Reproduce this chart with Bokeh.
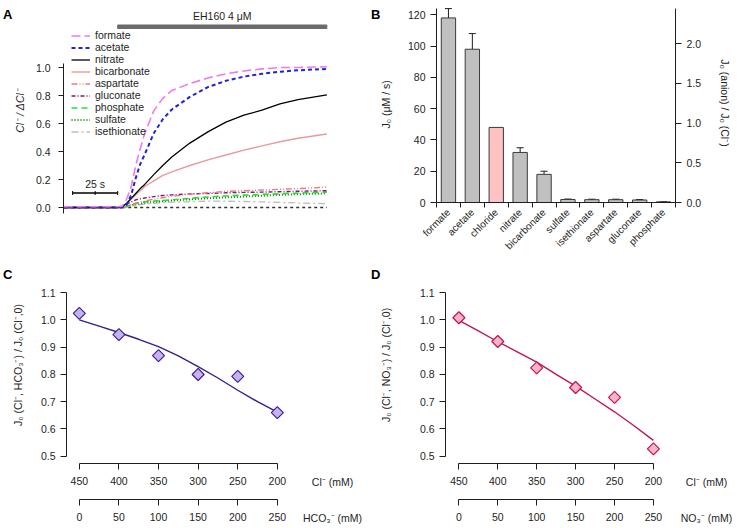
from math import pi
from bokeh.plotting import figure
from bokeh.models import (Range1d, LinearAxis, FixedTicker, NumeralTickFormatter,
                          Legend, LegendItem, Whisker, ColumnDataSource, TeeHead)
from bokeh.layouts import column, row
from bokeh.embed import file_html
from bokeh.resources import INLINE
from bokeh.core.properties import value

FONT = "Liberation Sans"
INK = "#1e1e1e"

# ---------------- Panel A data (time course) ----------------
time_s = [-30, 0, 2.5, 5, 7.5, 10, 12.5, 15, 20, 25, 30, 40, 50, 60, 70, 80, 90, 100, 116]
trace_names = ["formate", "acetate", "nitrate", "bicarbonate", "aspartate",
               "gluconate", "phosphate", "sulfate", "isethionate"]
formate_trace = [0.005, 0.005, 0.01, 0.06, 0.15, 0.30, 0.42, 0.53, 0.69, 0.78, 0.835, 0.885, 0.925, 0.955, 0.975, 0.99, 1.0, 1.0, 1.005]
acetate_trace = [0.0, 0.0, 0.0, 0.02, 0.09, 0.21, 0.31, 0.38, 0.53, 0.63, 0.70, 0.79, 0.86, 0.905, 0.935, 0.955, 0.97, 0.98, 0.99]
nitrate_trace = [0.0, 0.0, 0.005, 0.03, 0.065, 0.10, 0.135, 0.165, 0.235, 0.30, 0.36, 0.46, 0.54, 0.61, 0.66, 0.695, 0.74, 0.77, 0.805]
bicarbonate_trace = [0.0, 0.0, 0.005, 0.03, 0.06, 0.09, 0.12, 0.15, 0.19, 0.23, 0.255, 0.30, 0.34, 0.375, 0.41, 0.44, 0.47, 0.495, 0.525]
aspartate_trace = [0.0, 0.0, 0.0, 0.01, 0.02, 0.03, 0.04, 0.045, 0.06, 0.07, 0.08, 0.095, 0.105, 0.115, 0.12, 0.125, 0.13, 0.135, 0.145]
gluconate_trace = [0.0, 0.0, 0.01, 0.025, 0.04, 0.055, 0.062, 0.068, 0.078, 0.086, 0.09, 0.097, 0.10, 0.105, 0.108, 0.11, 0.113, 0.116, 0.12]
phosphate_trace = [0.0, 0.0, 0.0, 0.01, 0.02, 0.03, 0.035, 0.04, 0.045, 0.05, 0.055, 0.065, 0.075, 0.082, 0.088, 0.093, 0.098, 0.103, 0.11]
sulfate_trace = [0.0, 0.0, 0.0, 0.008, 0.015, 0.022, 0.028, 0.033, 0.04, 0.045, 0.05, 0.058, 0.066, 0.072, 0.078, 0.084, 0.09, 0.095, 0.10]
isethionate_trace = [0.0, 0.0, 0.0, 0.005, 0.01, 0.015, 0.02, 0.025, 0.03, 0.035, 0.038, 0.042, 0.045, 0.045, 0.043, 0.04, 0.036, 0.032, 0.027]
baseline_time_s = [2.5, 116]
baseline_trace = [0.0, 0.0]
eh160_window_s = [0, 116]
eh160_label = "EH160 4 μM"
scalebar_s = [-25, 0]
scalebar_label = "25 s"

# ---------------- Panel B data (J0 per anion) ----------------
anions = ["formate", "acetate", "chloride", "nitrate", "bicarbonate",
          "sulfate", "isethionate", "aspartate", "gluconate", "phosphate"]
j0_uM_s = [118, 98, 48, 32, 18, 1.9, 1.8, 1.8, 1.6, 0.4]
j0_sem = [6, 10, 0, 3, 2, 0.3, 0.3, 0.3, 0.3, 0.1]
j0_chloride_norm = 50.8

# ---------------- Panels C / D data ----------------
cl_mM = [450, 400, 350, 300, 250, 200]
cl_ticks = [450, 400, 350, 300, 250, 200]
sub_ticks = [0, 50, 100, 150, 200, 250]
ratio_hco3 = [1.024, 0.946, 0.869, 0.800, 0.793, 0.660]
ratio_no3 = [1.008, 0.921, 0.824, 0.752, 0.716, 0.527]
fit_cl_mM = [450, 425, 400, 375, 350, 325, 300, 275, 250, 225, 200]
fit_hco3 = [1.0, 0.977, 0.954, 0.929, 0.902, 0.868, 0.829, 0.787, 0.742, 0.70, 0.662]
fit_no3 = [0.998, 0.96, 0.92, 0.883, 0.845, 0.80, 0.757, 0.71, 0.663, 0.612, 0.558]
ratio_ticks = [0.5, 0.6, 0.7, 0.8, 0.9, 1.0, 1.1]

# ---------------- styles ----------------
trace_data = {
    "formate": formate_trace, "acetate": acetate_trace, "nitrate": nitrate_trace,
    "bicarbonate": bicarbonate_trace, "aspartate": aspartate_trace,
    "gluconate": gluconate_trace, "phosphate": phosphate_trace,
    "sulfate": sulfate_trace, "isethionate": isethionate_trace,
}
trace_styles = {
    "formate": ("#EE7BE6", "9 4", 1.6),
    "acetate": ("#1F24D6", "4 3", 2.0),
    "nitrate": ("#000000", "solid", 1.3),
    "bicarbonate": ("#EB9A9A", "solid", 1.4),
    "aspartate": ("#E97C7C", "6 2 1 2 1 2", 1.4),
    "gluconate": ("#7A1A7A", "4 2 1 2", 1.4),
    "phosphate": ("#2BE02B", "6 4", 1.7),
    "sulfate": ("#0A8A0A", "1 2", 2.0),
    "isethionate": ("#BDBDBD", "7 3 2 3", 1.3),
}


def style_axis(ax, size="10.5px", tick_out=5, standoff=6):
    ax.axis_line_color = INK
    ax.axis_line_width = 1
    ax.major_tick_line_color = INK
    ax.minor_tick_line_color = None
    ax.major_tick_in = 0
    ax.major_tick_out = tick_out
    ax.major_label_standoff = standoff
    ax.major_label_text_font = FONT
    ax.major_label_text_font_size = size
    ax.major_label_text_color = INK
    ax.axis_label_text_font = FONT
    ax.axis_label_text_font_size = size
    ax.axis_label_text_color = INK
    ax.axis_label_text_font_style = "normal"


def make_fig(w, h, xr, yr, bl, br, bt, bb, **kw):
    p = figure(width=w, height=h, x_range=xr, y_range=yr, output_backend="svg",
               toolbar_location=None, min_border_left=bl, min_border_right=br,
               min_border_top=bt, min_border_bottom=bb, **kw)
    try:
        p.frame_align = False
    except AttributeError:
        pass
    p.xgrid.visible = False
    p.ygrid.visible = False
    p.outline_line_color = None
    p.background_fill_color = "white"
    p.border_fill_color = "white"
    return p


def letter_axis(p, y, text, standoff):
    # panel letter drawn as the single tick label of an extra, otherwise invisible, left axis
    ax = LinearAxis(ticker=FixedTicker(ticks=[y]), major_label_overrides={y: text})
    ax.axis_line_color = None
    ax.major_tick_line_color = None
    ax.minor_tick_line_color = None
    ax.major_tick_in = 0
    ax.major_tick_out = 0
    ax.major_label_standoff = standoff
    ax.major_label_text_font = FONT
    ax.major_label_text_font_size = "13px"
    ax.major_label_text_font_style = "bold"
    ax.major_label_text_color = "black"
    p.add_layout(ax, "left")


def set_align(ax, where):
    try:
        ax.axis_label_align = where
    except (AttributeError, ValueError):
        pass


TOP_H, BOT_H = 262, 264

# ================= Panel A =================
A_FL, A_FR, A_FT, A_FB = 59, 332, 3, 218
A_T0_PX, A_PX_S = 114, 1.83
A_Y0_PX, A_PX_U = 207, 140
ax_x = lambda px: (px - A_T0_PX) / A_PX_S
ax_y = lambda py: (A_Y0_PX - py) / A_PX_U

pA = make_fig(368, TOP_H, Range1d(ax_x(A_FL), ax_x(A_FR)), Range1d(ax_y(A_FB), ax_y(A_FT)),
              A_FL, 368 - A_FR, A_FT, TOP_H - A_FB, x_axis_location=None)
style_axis(pA.yaxis[0], tick_out=5, standoff=8)
pA.yaxis.bounds = (-0.045, 1.03)
pA.yaxis.ticker = FixedTicker(ticks=[0, 0.2, 0.4, 0.6, 0.8, 1.0])
pA.yaxis.formatter = NumeralTickFormatter(format="0.0")
pA.yaxis.axis_label = "Cl⁻ / ΔCl⁻"
pA.yaxis.axis_label_text_font_style = "italic"
pA.yaxis.axis_label_standoff = 7
letter_axis(pA, 1.38, "A", -2)

pA.line(baseline_time_s, baseline_trace, line_color="#333333", line_dash="3 3", line_width=1.4)
items = []
for name in reversed(trace_names):
    c, d, w = trace_styles[name]
    r = pA.line(time_s, trace_data[name], line_color=c, line_dash=d, line_width=w)
    items.append(LegendItem(label=name, renderers=[r]))
items = list(reversed(items))
leg = Legend(items=items, location=(8, A_FB - 137), border_line_color=None,
             background_fill_alpha=0, padding=0, margin=0, spacing=0,
             glyph_width=19, glyph_height=11, label_height=11, label_standoff=5,
             label_text_font=FONT, label_text_font_size="10.5px", label_text_color=INK)
pA.add_layout(leg)

pA.quad(left=[eh160_window_s[0]], right=[eh160_window_s[1]], bottom=[ax_y(28)], top=[ax_y(24.5)],
        fill_color="#6b6b6b", line_color="#6b6b6b")
pA.text(x=[sum(eh160_window_s) / 2], y=[ax_y(15)], text=[eh160_label], text_align="center",
        text_baseline="middle", text_font=value(FONT), text_font_size="10.5px", text_color=INK)
pA.line(scalebar_s, [ax_y(192.5)] * 2, line_color="black", line_width=1.6)
sb_ticks = [scalebar_s[0], sum(scalebar_s) / 2, scalebar_s[1]]
pA.segment(x0=sb_ticks, y0=[ax_y(194.5)] * 3, x1=sb_ticks, y1=[ax_y(190.5)] * 3,
           line_color="black", line_width=1)
pA.text(x=[sum(scalebar_s) / 2], y=[ax_y(183)], text=[scalebar_label], text_align="center",
        text_baseline="middle", text_font=value(FONT), text_font_size="10.5px", text_color=INK)

# ================= Panel B =================
B_X0, B_W = 368, 373
B_FL, B_FR, B_FT, B_FB = 432, 675, 3, 202
B_Y0_PX, B_PX_U = 202, 1.564
bx_y = lambda py: (B_Y0_PX - py) / B_PX_U
B_AXTOP = bx_y(7.5)

pB = make_fig(B_W, TOP_H, Range1d(-0.5, len(anions) - 0.5), Range1d(0, bx_y(B_FT)),
              B_FL - B_X0, B_X0 + B_W - B_FR, B_FT, TOP_H - B_FB)
xi = list(range(len(anions)))
bar_colors = ["#FFC2C2" if a == "chloride" else "#C0C0C0" for a in anions]
srcB = ColumnDataSource(dict(x=xi, top=j0_uM_s, color=bar_colors))
pB.vbar(x="x", top="top", bottom=0, width=0.6, fill_color="color", line_color="#3a3a3a",
        line_width=1, source=srcB)
ex = [i for i, e in zip(xi, j0_sem) if e > 0]
srcE = ColumnDataSource(dict(
    x=ex,
    upper=[j0_uM_s[i] + j0_sem[i] for i in ex],
    lower=[j0_uM_s[i] - j0_sem[i] for i in ex]))
pB.add_layout(Whisker(source=srcE, base="x", upper="upper", lower="lower",
                      line_color=INK, line_width=1,
                      upper_head=TeeHead(size=7, line_color=INK, line_width=1),
                      lower_head=TeeHead(size=7, line_color=INK, line_width=1)))

style_axis(pB.yaxis[0], tick_out=6, standoff=5)
pB.yaxis.bounds = (0, B_AXTOP)
pB.yaxis.ticker = FixedTicker(ticks=[0, 20, 40, 60, 80, 100, 120])
pB.yaxis.axis_label = "J₀  (μM / s)"
pB.yaxis.axis_label_standoff = 13
letter_axis(pB, 120, "B", -4)

style_axis(pB.xaxis[0], size="10px", tick_out=0, standoff=3)
pB.xaxis.ticker = FixedTicker(ticks=xi, minor_ticks=[i - 0.5 for i in range(len(anions) + 1)])
pB.xaxis.minor_tick_line_color = INK
pB.xaxis.minor_tick_out = 5
pB.xaxis.minor_tick_in = 0
pB.xaxis.major_label_overrides = {i: a for i, a in enumerate(anions)}
pB.xaxis.major_label_orientation = pi / 4

pB.extra_y_ranges = {"ratio": Range1d(0, bx_y(B_FT) / j0_chloride_norm)}
axR = LinearAxis(y_range_name="ratio")
style_axis(axR, tick_out=6, standoff=5)
axR.bounds = (0, B_AXTOP / j0_chloride_norm)
axR.ticker = FixedTicker(ticks=[0, 0.5, 1.0, 1.5, 2.0])
axR.formatter = NumeralTickFormatter(format="0.0")
axR.axis_label = "J₀ (anion) / J₀ (Cl⁻)"
axR.axis_label_standoff = 15
pB.add_layout(axR, "right")

# ================= Panels C / D =================
CD_FT, CD_FB = 266, 464
CD_Y05_PX, CD_PX_U = 456.7, 274
cd_y = lambda py: 0.5 + (CD_Y05_PX - py) / CD_PX_U


def ratio_panel(x0, w, fl, fr, px450, px200, ratios, fit, sub_label, ylab, fill, edge, fitc,
                ylab_standoff, let):
    ppu = (px200 - px450) / 250.0
    to_x = lambda px: 450 - (px - px450) / ppu
    xs, xe = to_x(fl), to_x(fr)
    p = make_fig(w, BOT_H, Range1d(xs, xe), Range1d(cd_y(CD_FB), cd_y(CD_FT)),
                 fl - x0, x0 + w - fr, CD_FT - TOP_H, TOP_H + BOT_H - CD_FB)
    style_axis(p.yaxis[0], tick_out=6, standoff=5)
    p.yaxis.bounds = (0.5, 1.1)
    p.yaxis.ticker = FixedTicker(ticks=ratio_ticks)
    p.yaxis.formatter = NumeralTickFormatter(format="0.0")
    p.yaxis.axis_label = ylab
    p.yaxis.axis_label_standoff = ylab_standoff
    letter_axis(p, 1.165, let, -4)

    # Cl- axis (reversed range): its title sits level with the tick labels, at the frame's right edge
    ax1 = p.xaxis[0]
    style_axis(ax1, tick_out=6, standoff=7)
    ax1.bounds = (min(cl_ticks), max(cl_ticks))
    ax1.ticker = FixedTicker(ticks=cl_ticks)
    ax1.axis_label = "Cl⁻ (mM)\n"
    ax1.axis_label_text_line_height = 0.73
    ax1.axis_label_standoff = -12
    set_align(ax1, "start")

    p.extra_x_ranges = {"sub": Range1d(450 - xs, 450 - xe)}
    ax2 = LinearAxis(x_range_name="sub")
    style_axis(ax2, tick_out=6, standoff=7)
    ax2.bounds = (min(sub_ticks), max(sub_ticks))
    ax2.ticker = FixedTicker(ticks=sub_ticks)
    ax2.axis_label = sub_label
    ax2.axis_label_standoff = -12
    set_align(ax2, "end")
    p.add_layout(ax2, "below")

    p.line(fit_cl_mM, fit, line_color=fitc, line_width=1.4)
    p.scatter(cl_mM, ratios, marker="square", angle=pi / 4, size=8.5,
              fill_color=fill, line_color=edge, line_width=1.2)
    return p


pC = ratio_panel(0, 368, 62, 332, 75, 276, ratio_hco3, fit_hco3, "HCO₃⁻ (mM)",
                 "J₀ (Cl⁻, HCO₃⁻) / J₀ (Cl⁻,0)", "#C6B3EC", "#3F1F94", "#34208A",
                 14, "C")
pD = ratio_panel(368, 373, 439, 706, 452.7, 651.7, ratio_no3, fit_no3, "NO₃⁻ (mM)",
                 "J₀ (Cl⁻, NO₃⁻) / J₀ (Cl⁻,0)", "#F7B3C9", "#C4144E", "#C0174D",
                 25, "D")

layout = column(row(pA, pB), row(pC, pD))
open("out.html", "w").write(file_html(layout, INLINE))
